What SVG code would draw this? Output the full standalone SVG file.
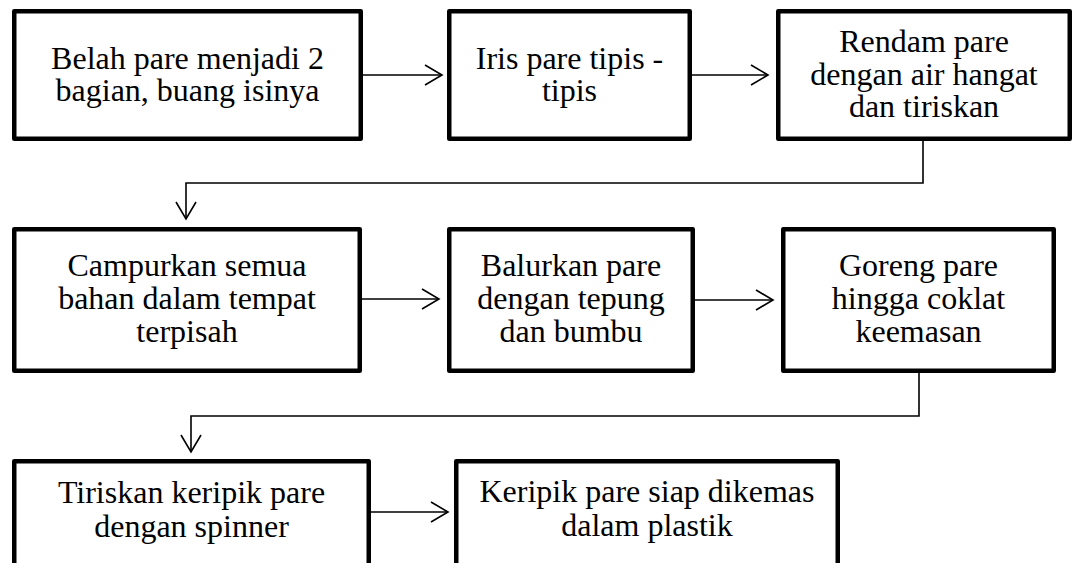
<svg xmlns="http://www.w3.org/2000/svg" width="1074" height="563" viewBox="0 0 1074 563">
  <style>
    .box { fill: #ffffff; stroke: #000000; stroke-width: 4.5; stroke-linejoin: round; }
    .lbl { font-family: "Liberation Serif", "Times New Roman", serif; font-size: 32px; fill: #000000; text-anchor: middle; }
    .wire { fill: none; stroke: #000000; stroke-width: 1.6; }
  </style>
  <defs>
    <marker id="head" markerUnits="userSpaceOnUse" markerWidth="24" markerHeight="24" viewBox="-20 -12 24 24" refX="0" refY="0" orient="auto">
      <path d="M-17,-10 L0,0 L-17,10" fill="none" stroke="#000000" stroke-width="1.6"/>
    </marker>
  </defs>
  <rect width="1074" height="563" fill="#ffffff"/>

  <!-- connectors -->
  <g id="connectors">
    <line class="wire" x1="363" y1="75" x2="442" y2="75" marker-end="url(#head)"/>
    <line class="wire" x1="692" y1="75" x2="768" y2="75" marker-end="url(#head)"/>
    <path class="wire" d="M923,141 V183 H186 V219" marker-end="url(#head)"/>
    <line class="wire" x1="362" y1="299" x2="439" y2="299" marker-end="url(#head)"/>
    <line class="wire" x1="695" y1="300" x2="773" y2="300" marker-end="url(#head)"/>
    <path class="wire" d="M919,373 V416 H191 V452" marker-end="url(#head)"/>
    <line class="wire" x1="371" y1="512" x2="448" y2="512" marker-end="url(#head)"/>
  </g>

  <!-- row 1 -->
  <g id="belah">
    <rect class="box" x="14.25" y="11.25" width="346.5" height="127.5"/>
    <text class="lbl" x="187.5" y="68.5">Belah pare menjadi 2</text>
    <text class="lbl" x="187.5" y="101">bagian, buang isinya</text>
  </g>
  <g id="iris">
    <rect class="box" x="449.25" y="11.25" width="240.5" height="127.5"/>
    <text class="lbl" x="569.5" y="68.5">Iris pare tipis -</text>
    <text class="lbl" x="569.5" y="101">tipis</text>
  </g>
  <g id="rendam">
    <rect class="box" x="778.25" y="11.25" width="291.5" height="127.5"/>
    <text class="lbl" x="924" y="52">Rendam pare</text>
    <text class="lbl" x="924" y="84.5">dengan air hangat</text>
    <text class="lbl" x="924" y="117">dan tiriskan</text>
  </g>

  <!-- row 2 -->
  <g id="campurkan">
    <rect class="box" x="14.25" y="229.25" width="345.5" height="141.5"/>
    <text class="lbl" x="187" y="276">Campurkan semua</text>
    <text class="lbl" x="187" y="309">bahan dalam tempat</text>
    <text class="lbl" x="187" y="342">terpisah</text>
  </g>
  <g id="balurkan">
    <rect class="box" x="449.25" y="229.25" width="243.5" height="141.5"/>
    <text class="lbl" x="571" y="276">Balurkan pare</text>
    <text class="lbl" x="571" y="309">dengan tepung</text>
    <text class="lbl" x="571" y="342">dan bumbu</text>
  </g>
  <g id="goreng">
    <rect class="box" x="783.25" y="229.25" width="270.5" height="141.5"/>
    <text class="lbl" x="918.5" y="276">Goreng pare</text>
    <text class="lbl" x="918.5" y="309">hingga coklat</text>
    <text class="lbl" x="918.5" y="342">keemasan</text>
  </g>

  <!-- row 3 -->
  <g id="tiriskan">
    <rect class="box" x="14.25" y="461.25" width="354.5" height="110"/>
    <text class="lbl" x="191.5" y="503">Tiriskan keripik pare</text>
    <text class="lbl" x="191.5" y="537">dengan spinner</text>
  </g>
  <g id="kemas">
    <rect class="box" x="456.25" y="461.25" width="381.5" height="110"/>
    <text class="lbl" x="647" y="502">Keripik pare siap dikemas</text>
    <text class="lbl" x="647" y="536">dalam plastik</text>
  </g>
</svg>
